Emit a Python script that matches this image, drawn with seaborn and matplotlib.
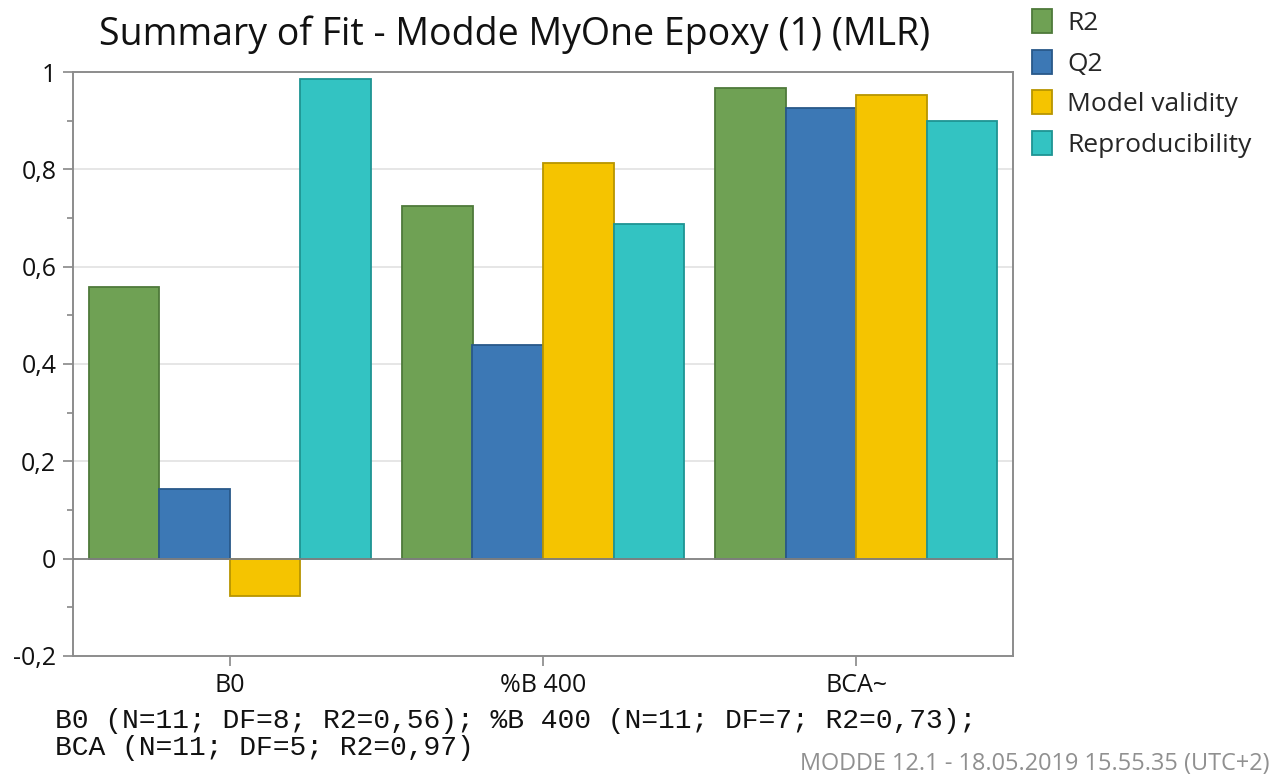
import numpy as np
import pandas as pd
import matplotlib
matplotlib.use("Agg")
import matplotlib.pyplot as plt
from matplotlib.patches import Patch
from matplotlib.ticker import MultipleLocator, FuncFormatter
import seaborn as sns

categories = ["B0", "%B 400", "BCA~"]
series = ["R2", "Q2", "Model validity", "Reproducibility"]
r2 = [0.559, 0.724, 0.968]
q2 = [0.144, 0.440, 0.927]
model_validity = [-0.076, 0.812, 0.952]
reproducibility = [0.986, 0.687, 0.899]
y_ticks = [-0.2, 0, 0.2, 0.4, 0.6, 0.8, 1]
title = "Summary of Fit - Modde MyOne Epoxy (1) (MLR)"
note_lines = ["B0 (N=11; DF=8; R2=0,56); %B 400 (N=11; DF=7; R2=0,73);",
              "BCA (N=11; DF=5; R2=0,97)"]
footer = "MODDE 12.1 - 18.05.2019 15.55.35 (UTC+2)"

fill_colors = ["#6FA154", "#3C78B5", "#F5C400", "#33C3C2"]
edge_colors = ["#4E7A3A", "#295889", "#B89500", "#1E9493"]

values = [r2, q2, model_validity, reproducibility]
df = pd.DataFrame({
    "category": [c for s in series for c in categories],
    "series": [s for s in series for c in categories],
    "value": [v for vals in values for v in vals],
})

sns.set_theme(style="white")
plt.rcParams['font.family'] = ['Open Sans', 'DejaVu Sans']

fig = plt.figure(figsize=(12.88, 7.76), dpi=100)
ax = fig.add_axes([73/1288, 1-656/776, (1013-73)/1288, (656-72)/776])

sns.barplot(data=df, x="category", y="value", hue="series", order=categories,
            hue_order=series, palette=fill_colors, width=0.9, ax=ax,
            legend=False, errorbar=None, saturation=1)

for cont, ec in zip(ax.containers, edge_colors):
    for p in cont:
        p.set_edgecolor(ec)
        p.set_linewidth(1.3)

ax.set_xlim(-0.5, 2.5)
ax.set_ylim(-0.2, 1.0)
ax.set_yticks(y_ticks)
ax.set_xlabel("")
ax.set_ylabel("")
ax.yaxis.set_minor_locator(MultipleLocator(0.1))
ax.yaxis.set_major_formatter(FuncFormatter(lambda v, p: ("%g" % round(v, 2)).replace(".", ",")))
ax.tick_params(axis="y", which="major", length=7, width=1.2, color="#888888", labelsize=18, pad=5, left=True)
ax.tick_params(axis="y", which="minor", length=4, width=1.2, color="#888888", left=True)
ax.tick_params(axis="x", which="major", length=7, width=1.2, color="#888888", labelsize=18, pad=5, bottom=True)
for t in ax.get_xticklabels() + ax.get_yticklabels():
    t.set_color("#111111")

for y in [0.2, 0.4, 0.6, 0.8]:
    ax.axhline(y, color="#e2e2e2", lw=1.2, zorder=0)
ax.axhline(0, color="#808080", lw=1.3, zorder=3)

for sp in ax.spines.values():
    sp.set_visible(True)
    sp.set_color("#8c8c8c")
    sp.set_linewidth(1.4)

fig.text(515/1288, 1-35/776, title, ha="center", va="center", fontsize=27, color="#111111")

handles = [Patch(facecolor=fc, edgecolor=ec, linewidth=1.3) for fc, ec in zip(fill_colors, edge_colors)]
fig.legend(handles, series, loc="upper left", bbox_to_anchor=(1019/1288, 1.005),
           frameon=False, fontsize=19, handlelength=0.76, handleheight=1.0,
           handletextpad=0.57, labelspacing=0.52, borderpad=0.0)

fig.text(55/1288, 1-721/776, note_lines[0], ha="left", va="center",
         fontsize=20.2, family="Liberation Mono", color="#111111")
fig.text(55/1288, 1-748/776, note_lines[1], ha="left", va="center",
         fontsize=20.2, family="Liberation Mono", color="#111111")
fig.text(1270/1288, 1-764/776, footer, ha="right", va="center", fontsize=16.9, color="#909090")

fig.savefig("out.png", dpi=100)
